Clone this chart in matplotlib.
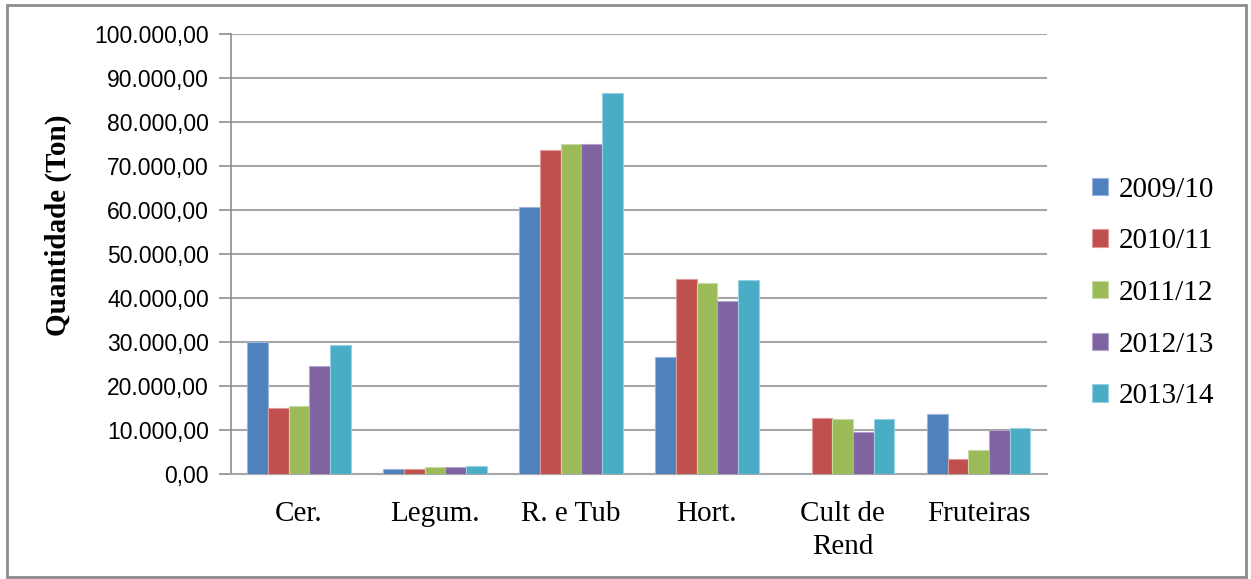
"""
Produção agrícola por cultura e campanha — gráfico de barras agrupadas
"""

import numpy as np
import matplotlib.pyplot as plt
from matplotlib.patches import Rectangle
from matplotlib.ticker import FuncFormatter

categories = ["Cer.", "Legum.", "R. e Tub", "Hort.", "Cult de\nRend", "Fruteiras"]
seasons = ["2009/10", "2010/11", "2011/12", "2012/13", "2013/14"]

v_2009_10 = [29900, 1100, 60700, 26400, 0, 13500]
v_2010_11 = [14800, 1100, 73500, 44200, 12700, 3300]
v_2011_12 = [15300, 1400, 74900, 43400, 12300, 5300]
v_2012_13 = [24400, 1400, 74900, 39300, 9400, 9900]
v_2013_14 = [29200, 1700, 86400, 44000, 12300, 10300]

series = [v_2009_10, v_2010_11, v_2011_12, v_2012_13, v_2013_14]
colors = ["#4F81BD", "#C0504D", "#9BBB59", "#8064A2", "#4BACC6"]
edges = ["#9DB5DC", "#DD9A98", "#C6DAA2", "#B4A3CB", "#98D2E2"]

fig = plt.figure(figsize=(12.51, 5.79), dpi=100)
ax = fig.add_axes([0.1847, 0.182, 0.652, 0.760])

x = np.arange(len(categories))
bar_w = 0.152
for i, (vals, c, ec) in enumerate(zip(series, colors, edges)):
    offs = (i - 2) * bar_w
    ax.bar(x + offs, vals, width=bar_w, color=c, edgecolor=ec,
           linewidth=0.8, label=seasons[i], zorder=3)

ax.set_xlim(-0.5, len(categories) - 0.5)
ax.set_ylim(0, 100000)
ax.set_yticks(np.arange(0, 100001, 10000))


def br_fmt(v, pos):
    s = f"{v:,.2f}"
    return s.replace(",", "X").replace(".", ",").replace("X", ".")


ax.yaxis.set_major_formatter(FuncFormatter(br_fmt))
ax.set_xticks(x)
ax.set_xticklabels(categories, family="Liberation Serif", fontsize=21,
                   linespacing=1.35)
ax.tick_params(axis="x", length=0, pad=20)
ax.tick_params(axis="y", length=9, width=1.2, color="#8C8C8C", pad=7,
               labelsize=16.5)
for lbl in ax.get_yticklabels():
    lbl.set_family("Liberation Sans")

ax.grid(axis="y", color="#A6A6A6", linewidth=1.5, zorder=0)
for s in ["top", "right"]:
    ax.spines[s].set_visible(False)
ax.spines["left"].set_color("#8C8C8C")
ax.spines["left"].set_linewidth(1.2)
ax.spines["bottom"].set_color("#A6A6A6")
ax.spines["bottom"].set_linewidth(1.5)

fig.text(0.047, 1 - 225 / 579, "Quantidade (Ton)", rotation=90,
         ha="center", va="center", family="Liberation Serif",
         fontweight="bold", fontsize=21)

leg = fig.legend(loc="center left", bbox_to_anchor=(0.852, 0.494),
                 frameon=False, prop={"family": "Liberation Serif", "size": 21},
                 handlelength=0.55, handleheight=0.55, handletextpad=0.35,
                 labelspacing=0.88)

fig.patches.append(Rectangle((7 / 1251, 2 / 579), 1239 / 1251, 572 / 579,
                             transform=fig.transFigure, fill=False,
                             edgecolor="#8C8C8C", linewidth=2.0))

plt.savefig("out.png", dpi=100)
